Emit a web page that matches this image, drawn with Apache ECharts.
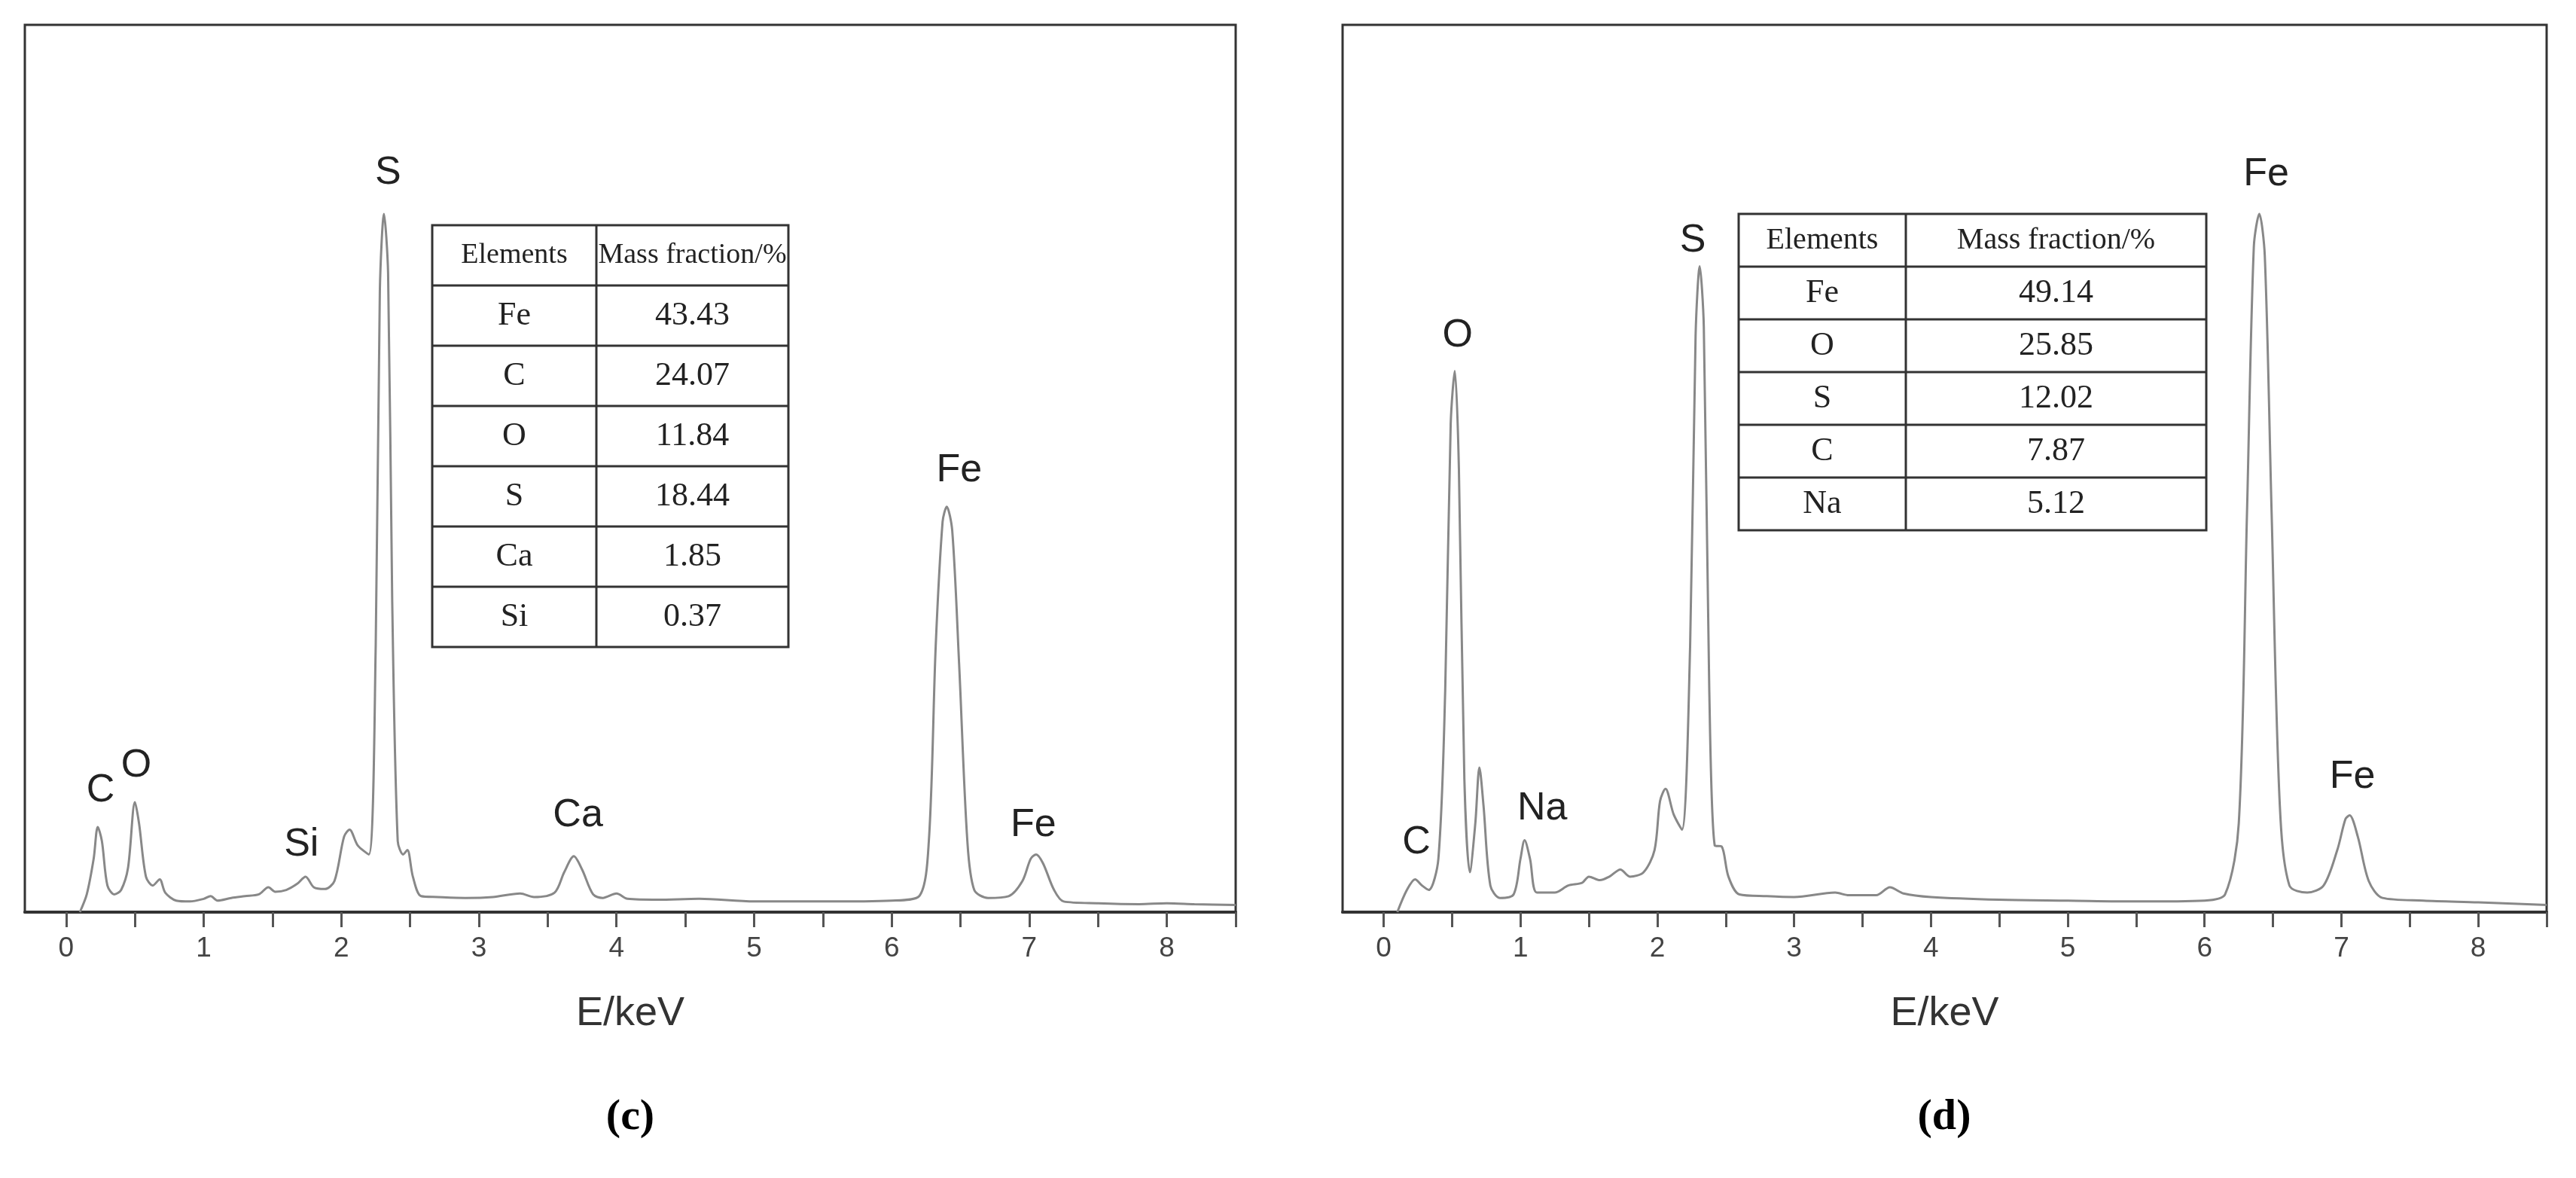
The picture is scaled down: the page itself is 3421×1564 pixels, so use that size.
<!DOCTYPE html>
<html>
<head>
<meta charset="utf-8">
<script src="https://cdn.jsdelivr.net/npm/echarts@6/dist/echarts.min.js"></script>
<style>html,body{margin:0;background:#fff}#c{width:3421px;height:1564px}</style>
</head>
<body>
<div id="c"></div>
<script>
// spectrum (c): [E/keV, counts (arb.)]
const spectrumC = [
  [0.1,0],[0.15,2],[0.2,6],[0.23,9.6],[0.26,8],[0.3,3],[0.35,2],[0.4,2.5],[0.45,5],[0.5,12.4],
  [0.53,10],[0.58,4],[0.63,3],[0.68,3.7],[0.72,2.2],[0.8,1.3],[0.9,1.2],[1.0,1.5],[1.05,1.8],[1.1,1.3],
  [1.2,1.6],[1.3,1.8],[1.4,2],[1.47,2.8],[1.52,2.3],[1.6,2.5],[1.68,3.2],[1.74,4],[1.8,2.8],[1.88,2.6],
  [1.95,3.5],[2.02,8.5],[2.06,9.3],[2.12,7.5],[2.2,6.5],[2.25,30],[2.28,70],[2.31,78.7],[2.34,72],[2.37,35],
  [2.41,8],[2.45,6.5],[2.48,7],[2.52,4],[2.58,1.8],[2.7,1.7],[2.9,1.6],[3.1,1.7],[3.3,2.1],[3.4,1.7],
  [3.55,2.2],[3.62,4.5],[3.69,6.3],[3.75,4.8],[3.83,2],[3.9,1.6],[4.0,2.1],[4.08,1.5],[4.3,1.4],[4.6,1.5],
  [5.0,1.2],[5.5,1.2],[6.0,1.3],[6.2,1.8],[6.27,8],[6.32,30],[6.37,44],[6.4,45.7],[6.44,43],[6.49,28],
  [6.55,8],[6.6,2.5],[6.7,1.6],[6.85,1.8],[6.95,3.5],[7.01,6],[7.05,6.5],[7.1,5.5],[7.18,2.5],[7.25,1.2],
  [7.5,1.0],[7.8,0.9],[8.0,1.0],[8.2,0.9],[8.5,0.8]
];
// spectrum (d)
const spectrumD = [
  [0.1,0],[0.17,2.5],[0.23,3.7],[0.28,3],[0.33,2.5],[0.4,6],[0.45,25],[0.49,55],[0.52,61],[0.55,50],
  [0.59,15],[0.63,4.5],[0.67,10],[0.7,16.3],[0.73,12],[0.78,3],[0.85,1.6],[0.95,2],[1.0,6],[1.03,8.1],
  [1.07,6],[1.12,2.2],[1.25,2.2],[1.35,3],[1.45,3.3],[1.5,4],[1.58,3.6],[1.65,4],[1.73,4.8],[1.8,4],
  [1.9,4.5],[1.98,7],[2.02,12.5],[2.06,13.9],[2.12,11],[2.18,9.3],[2.24,30],[2.28,65],[2.31,72.8],[2.34,66],
  [2.38,25],[2.42,7.5],[2.47,7.4],[2.52,4],[2.6,2],[2.8,1.8],[3.0,1.7],[3.3,2.2],[3.4,1.9],[3.6,1.9],
  [3.7,2.8],[3.8,2.1],[4.0,1.7],[4.5,1.4],[5.0,1.3],[5.5,1.2],[6.0,1.3],[6.15,2],[6.25,10],[6.31,45],
  [6.36,75],[6.4,78.7],[6.44,74],[6.49,45],[6.55,12],[6.62,3],[6.75,2.2],[6.87,3],[6.97,7],[7.03,10.5],
  [7.06,10.9],[7.12,8.5],[7.2,3.5],[7.3,1.6],[7.6,1.3],[8.0,1.1],[8.5,0.8]
];
const peakLabelsC = [['S',2.34,83.3],['C',0.25,13.7],['O',0.51,16.5],['Si',1.71,7.6],['Ca',3.72,10.9],['Fe',6.49,49.8],['Fe',7.03,9.8]];
const peakLabelsD = [['S',2.26,75.7],['O',0.54,65],['C',0.24,7.8],['Na',1.16,11.7],['Fe',6.45,83.1],['Fe',7.08,15.2]];
const tableC = [['Elements','Mass fraction/%'],['Fe','43.43'],['C','24.07'],['O','11.84'],['S','18.44'],['Ca','1.85'],['Si','0.37']];
const tableD = [['Elements','Mass fraction/%'],['Fe','49.14'],['O','25.85'],['S','12.02'],['C','7.87'],['Na','5.12']];
const tickValues = [0,0.5,1,1.5,2,2.5,3,3.5,4,4.5,5,5.5,6,6.5,7,7.5,8,8.5];
const labelValues = [0,1,2,3,4,5,6,7,8];

const chart = echarts.init(document.getElementById('c'));

const grids = [
  {left: 33, top: 33, width: 1608, height: 1178, show: true, borderColor: '#333', borderWidth: 3},
  {left: 1783, top: 33, width: 1599, height: 1178, show: true, borderColor: '#333', borderWidth: 3}
];

const xAxis = [0, 1].map(i => ({
  type: 'value', gridIndex: i, min: -0.3, max: 8.5,
  name: 'E/keV', nameLocation: 'middle', nameGap: 108,
  nameTextStyle: {fontFamily: 'Liberation Sans', fontSize: 54, color: '#333'},
  axisLine: {lineStyle: {color: '#333', width: 4}},
  axisTick: {show: true, length: 20, customValues: tickValues, lineStyle: {color: '#555', width: 3}},
  axisLabel: {customValues: labelValues, margin: 30, fontFamily: 'Liberation Sans', fontSize: 37, color: '#444'},
  splitLine: {show: false}
}));
const yAxis = [0, 1].map(i => ({
  type: 'value', gridIndex: i, min: 0, max: 100,
  axisLine: {show: false}, axisTick: {show: false}, axisLabel: {show: false}, splitLine: {show: false}
}));

function peakSeries(data, labels, i) {
  return {
    type: 'line', xAxisIndex: i, yAxisIndex: i, data: data, symbol: 'none', smooth: 0.3,
    lineStyle: {color: '#888', width: 3},
    markPoint: {
      symbol: 'circle', symbolSize: 0,
      label: {show: true, position: 'inside', formatter: p => p.name,
        fontFamily: 'Liberation Sans', fontSize: 52, color: '#222'},
      data: labels.map(l => ({name: l[0], coord: [l[1], l[2]]}))
    }
  };
}

function tableGraphic(rows, x0, y0, w1, w2, rh, headSize) {
  const els = [];
  els.push({type: 'rect', shape: {x: x0, y: y0, width: w1 + w2, height: rh * rows.length},
    style: {fill: '#fff', stroke: '#333', lineWidth: 3}});
  els.push({type: 'line', shape: {x1: x0 + w1, y1: y0, x2: x0 + w1, y2: y0 + rh * rows.length},
    style: {stroke: '#333', lineWidth: 3}});
  rows.forEach((r, k) => {
    if (k > 0) els.push({type: 'line', shape: {x1: x0, y1: y0 + rh * k, x2: x0 + w1 + w2, y2: y0 + rh * k},
      style: {stroke: '#333', lineWidth: 3}});
    [r[0], r[1]].forEach((t, j) => {
      els.push({type: 'text', x: j ? x0 + w1 + w2 / 2 : x0 + w1 / 2, y: y0 + rh * k + rh / 2,
        style: {text: t, fontFamily: 'Liberation Serif', fontSize: k === 0 ? headSize : 44, fill: '#222', align: 'center', verticalAlign: 'middle'}});
    });
  });
  return els;
}

chart.setOption({
  animation: false,
  grid: grids,
  xAxis: xAxis,
  yAxis: yAxis,
  series: [peakSeries(spectrumC, peakLabelsC, 0), peakSeries(spectrumD, peakLabelsD, 1)],
  graphic: [
    ...tableGraphic(tableC, 574, 299, 218, 255, 80, 38),
    ...tableGraphic(tableD, 2309, 284, 222, 399, 70, 40),
    {type: 'text', x: 837, y: 1484, style: {text: '(c)', fontFamily: 'Liberation Serif', fontSize: 58, fontWeight: 'bold', fill: '#000', align: 'center', verticalAlign: 'middle'}},
    {type: 'text', x: 2582, y: 1484, style: {text: '(d)', fontFamily: 'Liberation Serif', fontSize: 58, fontWeight: 'bold', fill: '#000', align: 'center', verticalAlign: 'middle'}}
  ]
});
</script>
</body>
</html>
